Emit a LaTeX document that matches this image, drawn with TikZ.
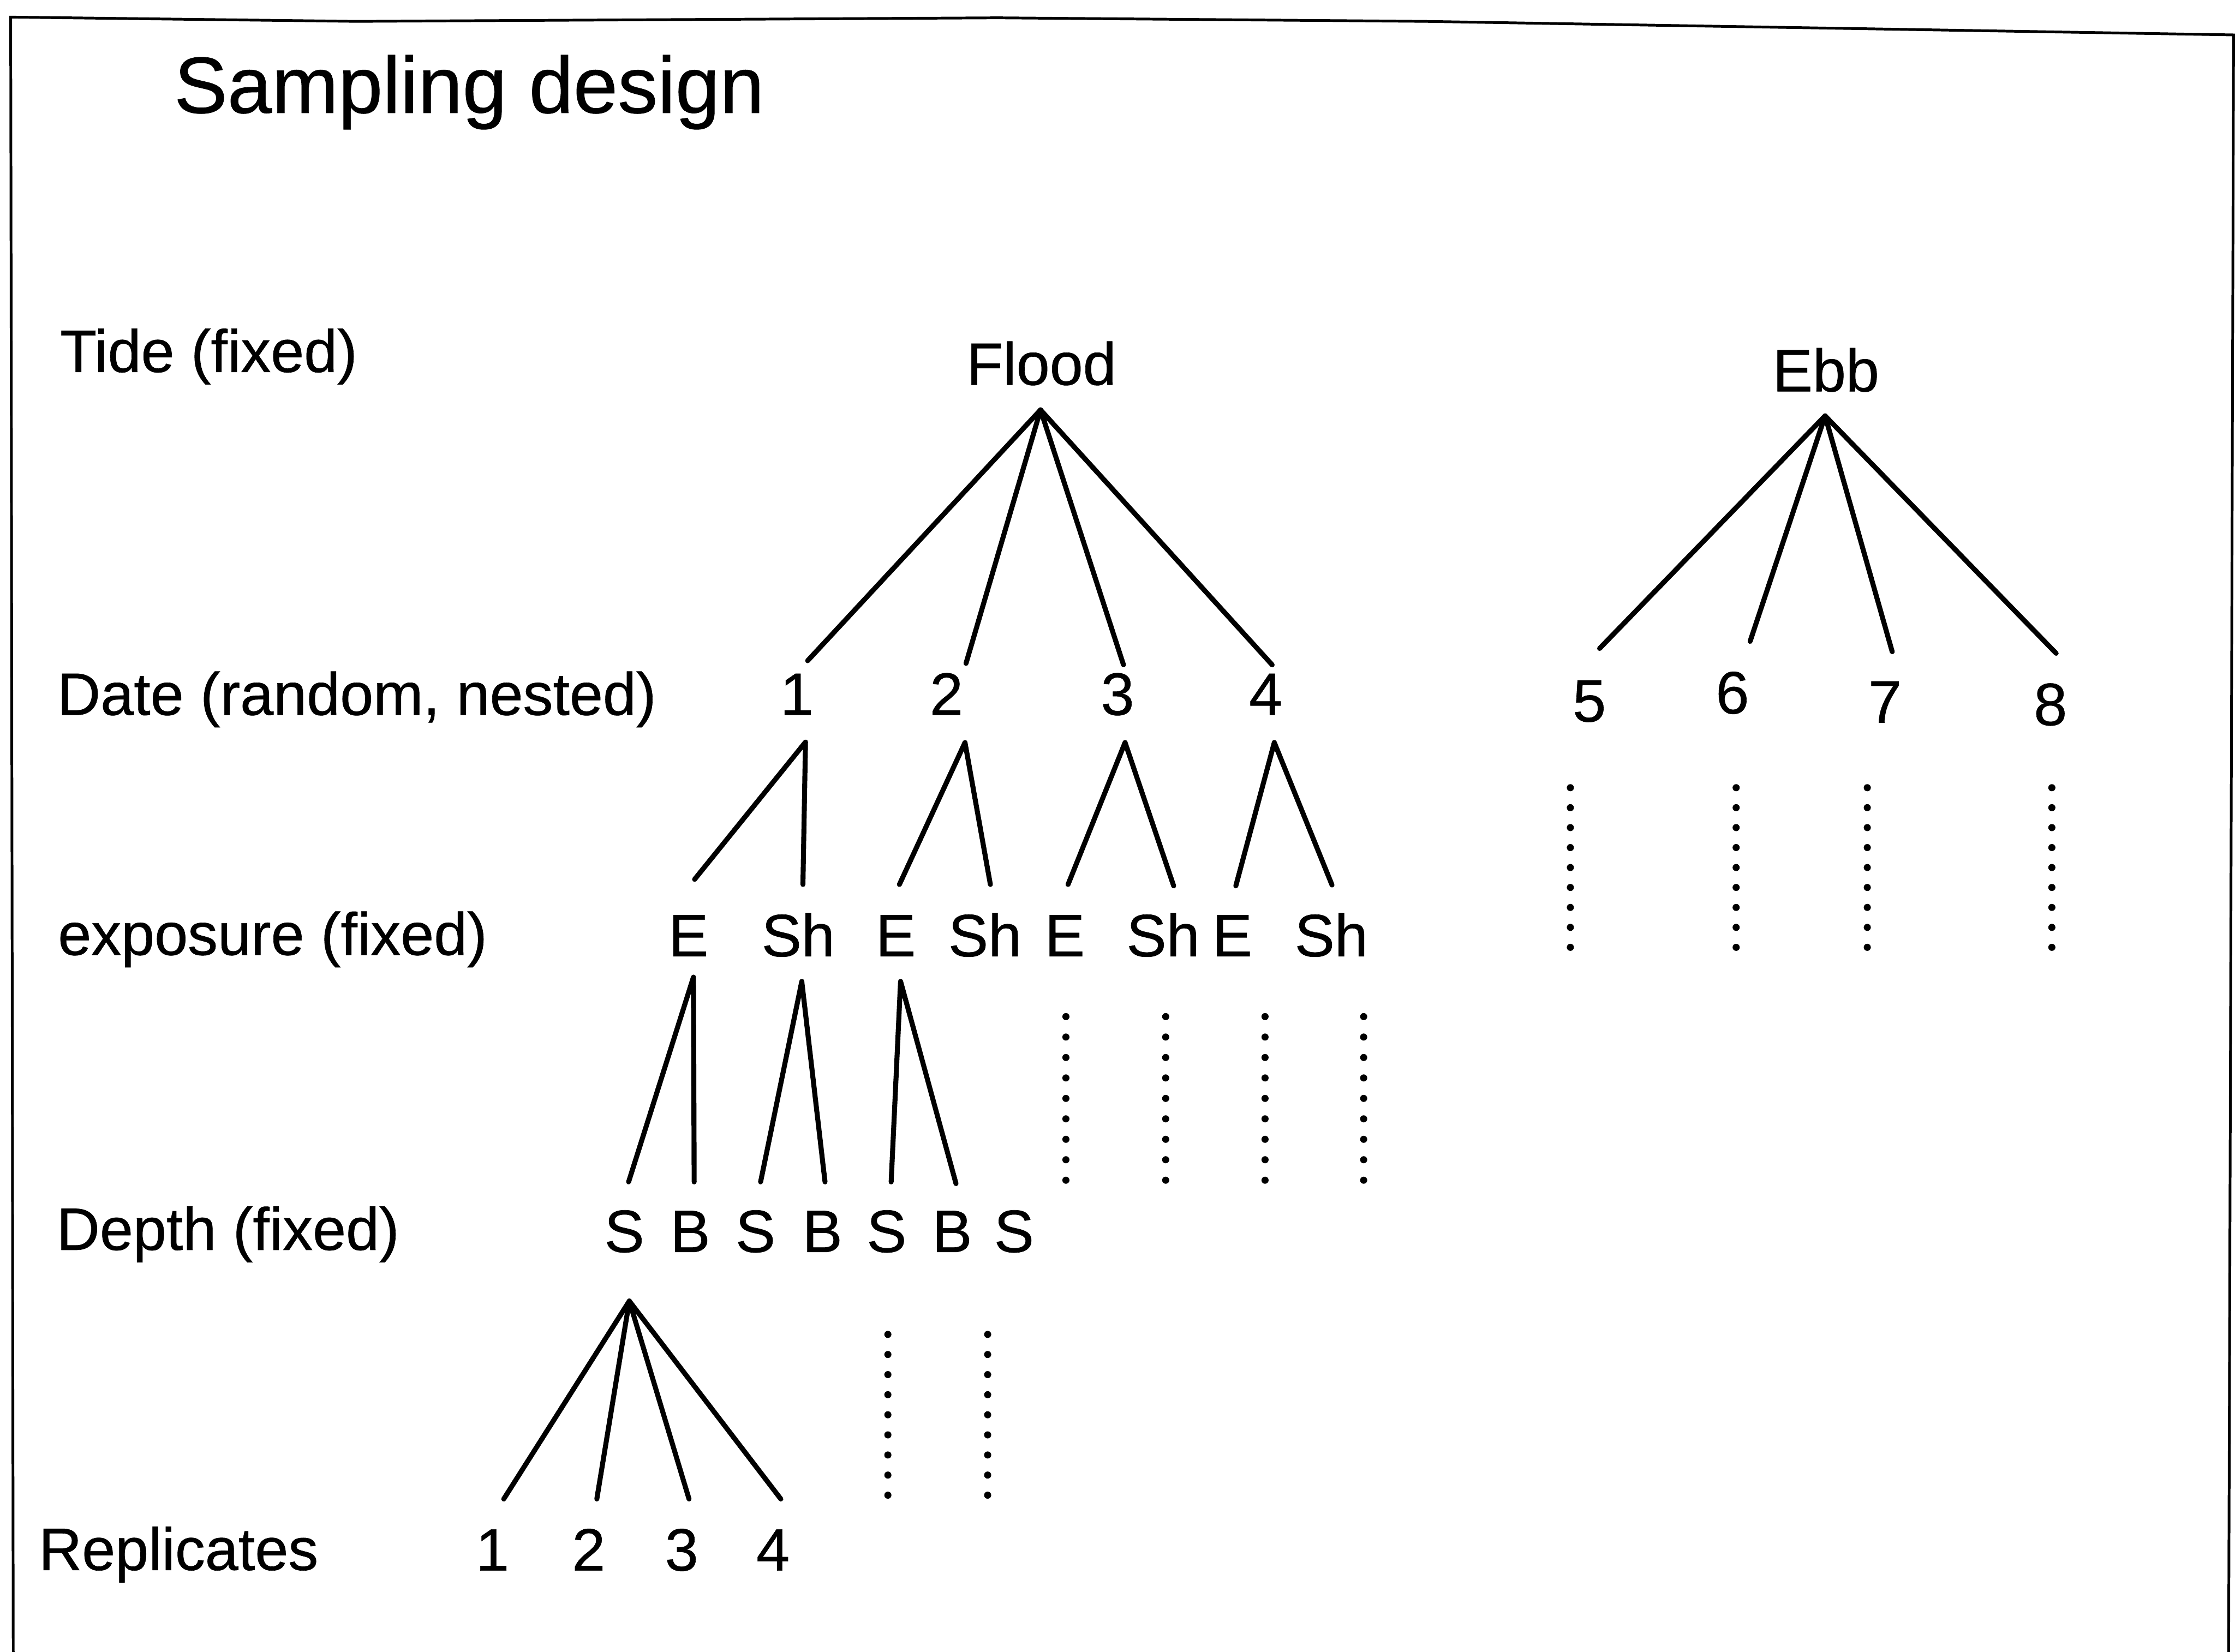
\documentclass[tikz,border=0pt]{standalone}
\usepackage{fontspec}
\setmainfont{Liberation Sans}[FakeBold=0.6]
\begin{document}
\begin{tikzpicture}[x=1pt,y=-1pt,
  lbl/.style={anchor=base west,inner sep=0pt,font=\fontsize{42}{48}\selectfont},
  tnode/.style={anchor=base,inner sep=0pt,font=\fontsize{42}{48}\selectfont},
  titlestyle/.style={anchor=base west,inner sep=0pt,font=\fontsize{56}{64}\selectfont},
  tline/.style={line width=3.5pt,line cap=round,line join=round},
  dotcol/.style={line width=5pt,line cap=round,dash pattern=on 0pt off #1},
  dotcol/.default=14pt,
  framestyle/.style={line width=1.9pt,line join=miter}]
\useasboundingbox (0,0) rectangle (1568,1159);
% frame (open at the bottom)
\draw[framestyle] (9.3,1165) -- (7.5,12) -- (250,15) -- (700,12.5) -- (1000,15) -- (1567,24.5) -- (1563.5,1165);
% title and row labels
\node[titlestyle] (title) at (122,79.2) {Sampling design};
\node[lbl] (tide) at (42,261) {Tide (fixed)};
\node[lbl] (date) at (40,501.6) {Date (random, nested)};
\node[lbl] (expo) at (40.5,670) {exposure (fixed)};
\node[lbl] (depth) at (39.5,877) {Depth (fixed)};
\node[lbl] (repl) at (27,1101.6) {Replicates};
% tide level
\node[tnode] (flood) at (730.6,270) {Flood};
\node[tnode] (ebb) at (1281,274.6) {Ebb};
% date level
\node[tnode] (d1) at (559,501.6) {1};
\node[tnode] (d2) at (664,501.6) {2};
\node[tnode] (d3) at (784,501.6) {3};
\node[tnode] (d4) at (888,501.6) {4};
\node[tnode] (d5) at (1115,506.3) {5};
\node[tnode] (d6) at (1215.4,500.6) {6};
\node[tnode] (d7) at (1322.4,507) {7};
\node[tnode] (d8) at (1438.5,508.8) {8};
% exposure level
\node[tnode] (e1) at (483,671) {E};
\node[tnode] (s1) at (560,671) {Sh};
\node[tnode] (e2) at (628.4,671) {E};
\node[tnode] (s2) at (691,671) {Sh};
\node[tnode] (e3) at (747,671) {E};
\node[tnode] (s3) at (816,671) {Sh};
\node[tnode] (e4) at (864.5,671) {E};
\node[tnode] (s4) at (934,671) {Sh};
% depth level
\node[tnode] (p1) at (438,878.5) {S};
\node[tnode] (p2) at (484.3,878.5) {B};
\node[tnode] (p3) at (530,878.5) {S};
\node[tnode] (p4) at (577,878.5) {B};
\node[tnode] (p5) at (622,878.5) {S};
\node[tnode] (p6) at (668,878.5) {B};
\node[tnode] (p7) at (711.4,878.5) {S};
% replicates
\node[tnode] (r1) at (345.5,1102) {1};
\node[tnode] (r2) at (413,1102) {2};
\node[tnode] (r3) at (478.2,1102) {3};
\node[tnode] (r4) at (542.3,1102) {4};
% connector end points
\coordinate (fa) at (730,287.6);
\coordinate (f1) at (566.6,463.6);
\coordinate (f2) at (677.7,465.5);
\coordinate (f3) at (788.2,466.5);
\coordinate (f4) at (892.5,466.5);
\coordinate (ea) at (1280.4,291.8);
\coordinate (b5) at (1122.2,455);
\coordinate (b6) at (1227.8,450);
\coordinate (b7) at (1327.5,457.3);
\coordinate (b8) at (1442.5,458.4);
\coordinate (d1a) at (565.1,520.7);
\coordinate (d1l) at (487.3,617);
\coordinate (d1r) at (563.3,620.6);
\coordinate (d2a) at (677,521);
\coordinate (d2l) at (631,620.6);
\coordinate (d2r) at (694.8,620.6);
\coordinate (d3a) at (789.3,521);
\coordinate (d3l) at (749.3,620.6);
\coordinate (d3r) at (823.4,621.6);
\coordinate (d4a) at (894,521);
\coordinate (d4l) at (867,621.6);
\coordinate (d4r) at (934.5,621);
\coordinate (e1a) at (486.5,685.6);
\coordinate (e1l) at (441,829.3);
\coordinate (e1r) at (487,829.3);
\coordinate (s1a) at (562.5,688.6);
\coordinate (s1l) at (533.6,829.3);
\coordinate (s1r) at (578.8,829.3);
\coordinate (e2a) at (631.8,688.6);
\coordinate (e2l) at (625.2,829.3);
\coordinate (e2r) at (670.7,830.5);
\coordinate (p1a) at (441.5,912.9);
\coordinate (q1) at (353.4,1051.8);
\coordinate (q2) at (418.7,1051.8);
\coordinate (q3) at (483.4,1051.8);
\coordinate (q4) at (547.8,1051.8);
% tree connectors
\foreach \c in {f1,f2,f3,f4} \draw[tline] (fa) -- (\c);
\foreach \c in {b5,b6,b7,b8} \draw[tline] (ea) -- (\c);
\foreach \a in {d1,d2,d3,d4} \draw[tline] (\a l) -- (\a a) -- (\a r);
\foreach \a in {e1,s1,e2} \draw[tline] (\a l) -- (\a a) -- (\a r);
\foreach \c in {q1,q2,q3,q4} \draw[tline] (p1a) -- (\c);
% dotted continuations
\coordinate (x3t) at (747.8,713.3);  \coordinate (x3b) at (747.8,828.2);
\coordinate (x4t) at (817.8,713.3);  \coordinate (x4b) at (817.8,828.2);
\coordinate (x5t) at (887.5,713.3);  \coordinate (x5b) at (887.5,828.2);
\coordinate (x6t) at (956.7,713.3);  \coordinate (x6b) at (956.7,828.2);
\foreach \c in {x3,x4,x5,x6} \draw[dotcol=14.35pt] (\c t) -- (\c b);
\coordinate (y1t) at (622.9,936.3);  \coordinate (y1b) at (622.9,1049.2);
\coordinate (y2t) at (692.9,936.3);  \coordinate (y2b) at (692.9,1049.2);
\foreach \c in {y1,y2} \draw[dotcol=14.1pt] (\c t) -- (\c b);
\coordinate (z5t) at (1101.7,552.7);  \coordinate (z5b) at (1101.7,664.9);
\coordinate (z6t) at (1218,552.7);    \coordinate (z6b) at (1218,664.9);
\coordinate (z7t) at (1310,552.7);    \coordinate (z7b) at (1310,664.9);
\coordinate (z8t) at (1439.5,552.7);  \coordinate (z8b) at (1439.5,664.9);
\foreach \c in {z5,z6,z7,z8} \draw[dotcol=14pt] (\c t) -- (\c b);
\end{tikzpicture}
\end{document}
